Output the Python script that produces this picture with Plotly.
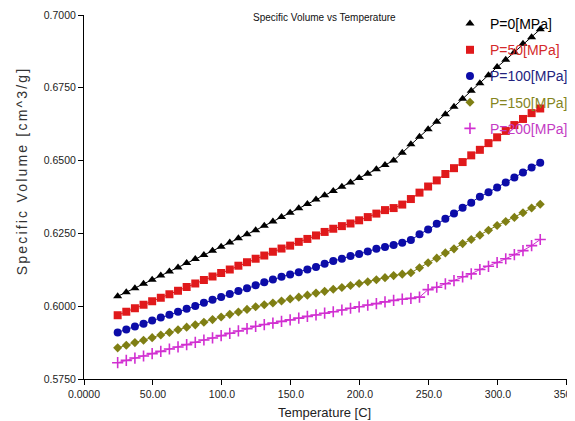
import plotly.graph_objects as go

temperature = [24.40, 30.65, 36.90, 43.15, 49.40, 55.65, 61.90, 68.15, 74.40, 80.65,
               86.90, 93.15, 99.40, 105.65, 111.90, 118.15, 124.40, 130.65, 136.90, 143.15,
               149.40, 155.65, 161.90, 168.15, 174.40, 180.65, 186.90, 193.15, 199.40, 205.65,
               211.90, 218.15, 224.40, 230.65, 236.90, 243.15, 249.40, 255.65, 261.90, 268.15,
               274.40, 280.65, 286.90, 293.15, 299.40, 305.65, 311.90, 318.15, 324.40, 330.65]

p0 = [0.6034, 0.6048, 0.6062, 0.6077, 0.6091, 0.6105, 0.6119, 0.6133, 0.6148, 0.6162,
      0.6176, 0.6190, 0.6204, 0.6219, 0.6233, 0.6247, 0.6261, 0.6276, 0.6291, 0.6306,
      0.6321, 0.6336, 0.6351, 0.6366, 0.6381, 0.6396, 0.6410, 0.6425, 0.6440, 0.6455,
      0.6470, 0.6485, 0.6500, 0.6527, 0.6556, 0.6582, 0.6608, 0.6633, 0.6659, 0.6685,
      0.6712, 0.6740, 0.6766, 0.6793, 0.6821, 0.6846, 0.6872, 0.6901, 0.6924, 0.6951]

p50 = [0.5969, 0.5981, 0.5993, 0.6005, 0.6017, 0.6029, 0.6041, 0.6053, 0.6066, 0.6078,
       0.6090, 0.6102, 0.6114, 0.6126, 0.6139, 0.6151, 0.6163, 0.6174, 0.6187, 0.6198,
       0.6208, 0.6221, 0.6231, 0.6243, 0.6255, 0.6266, 0.6275, 0.6284, 0.6295, 0.6306,
       0.6318, 0.6330, 0.6337, 0.6349, 0.6368, 0.6390, 0.6411, 0.6432, 0.6454, 0.6474,
       0.6495, 0.6518, 0.6537, 0.6560, 0.6580, 0.6602, 0.6622, 0.6643, 0.6663, 0.6679]

p100 = [0.5910, 0.5920, 0.5930, 0.5940, 0.5951, 0.5961, 0.5971, 0.5981, 0.5991, 0.6001,
        0.6012, 0.6022, 0.6032, 0.6042, 0.6052, 0.6062, 0.6072, 0.6082, 0.6092, 0.6101,
        0.6109, 0.6117, 0.6126, 0.6135, 0.6146, 0.6155, 0.6163, 0.6172, 0.6179, 0.6188,
        0.6197, 0.6203, 0.6210, 0.6218, 0.6227, 0.6247, 0.6263, 0.6283, 0.6300, 0.6318,
        0.6338, 0.6355, 0.6376, 0.6391, 0.6408, 0.6425, 0.6442, 0.6459, 0.6476, 0.6493]

p150 = [0.5857, 0.5866, 0.5875, 0.5883, 0.5892, 0.5901, 0.5910, 0.5919, 0.5928, 0.5936,
        0.5945, 0.5954, 0.5963, 0.5972, 0.5980, 0.5989, 0.5998, 0.6005, 0.6011, 0.6018,
        0.6025, 0.6031, 0.6038, 0.6045, 0.6051, 0.6058, 0.6064, 0.6071, 0.6078, 0.6084,
        0.6091, 0.6098, 0.6105, 0.6110, 0.6115, 0.6132, 0.6149, 0.6165, 0.6183, 0.6197,
        0.6215, 0.6229, 0.6244, 0.6261, 0.6277, 0.6291, 0.6305, 0.6321, 0.6337, 0.6350]

p200 = [0.5806, 0.5814, 0.5822, 0.5829, 0.5837, 0.5845, 0.5853, 0.5860, 0.5868, 0.5876,
        0.5884, 0.5891, 0.5899, 0.5907, 0.5915, 0.5923, 0.5931, 0.5937, 0.5942, 0.5948,
        0.5953, 0.5959, 0.5965, 0.5970, 0.5976, 0.5981, 0.5987, 0.5993, 0.5998, 0.6004,
        0.6009, 0.6015, 0.6020, 0.6024, 0.6027, 0.6031, 0.6057, 0.6065, 0.6077, 0.6088,
        0.6101, 0.6111, 0.6126, 0.6137, 0.6150, 0.6163, 0.6177, 0.6191, 0.6208, 0.6229]

series_names = ["P=0[MPa]", "P=50[MPa]", "P=100[MPa]", "P=150[MPa]", "P=200[MPa]"]
series_values = [p0, p50, p100, p150, p200]

x_tick_vals = [0, 50, 100, 150, 200, 250, 300, 350]
x_tick_text = ["0.0000", "50.00", "100.0", "150.0", "200.0", "250.0", "300.0", "350.0"]
y_tick_vals = [0.575, 0.600, 0.625, 0.650, 0.675, 0.700]
y_tick_text = ["0.5750", "0.6000", "0.6250", "0.6500", "0.6750", "0.7000"]

styles = [
    dict(color="#000000", text="#000000", symbol="triangle-up", size=8, lw=0),
    dict(color="#e0191b", text="#d42a2a", symbol="square", size=8, lw=0),
    dict(color="#0c0ca8", text="#23237e", symbol="circle", size=8, lw=0),
    dict(color="#7f7f14", text="#85851e", symbol="diamond", size=7, lw=0),
    dict(color="#d12fd1", text="#c43cc4", symbol="cross-thin", size=8, lw=1.6),
]

fig = go.Figure()
for name, vals, st in zip(series_names, series_values, styles):
    marker = dict(symbol=st["symbol"], size=st["size"], color=st["color"])
    if st["lw"]:
        marker["line"] = dict(color=st["color"], width=st["lw"])
    fig.add_trace(go.Scatter(
        x=temperature, y=vals, mode="lines+markers",
        line=dict(color=st["color"], width=1),
        marker=marker, showlegend=False, hoverinfo="skip"))
    # legend entry (marker only)
    fig.add_trace(go.Scatter(
        x=[None], y=[None], mode="markers", marker=marker,
        name='<span style="color:%s">%s</span>' % (st["text"], name),
        legendgroup=name, showlegend=True))

fig.update_layout(
    width=567, height=413,
    margin=dict(l=76, r=8, t=7, b=42, autoexpand=False),
    paper_bgcolor="white", plot_bgcolor="white",
    font=dict(family="Liberation Sans, Arial, sans-serif", color="#222222"),
    showlegend=True,
    legend=dict(xref="container", yref="container",
                x=0.7795, xanchor="left", y=1.005, yanchor="top",
                bgcolor="rgba(255,255,255,0)", borderwidth=0,
                font=dict(size=14, family="Liberation Sans, Arial, sans-serif"),
                tracegroupgap=5, itemwidth=30),
    xaxis=dict(range=[0, 350.05], tickvals=x_tick_vals, ticktext=x_tick_text,
               showgrid=False, zeroline=False, showline=True, linecolor="black",
               linewidth=1, ticks="outside", ticklen=5, tickcolor="black",
               automargin=False, ticklabeloverflow="allow",
               tickfont=dict(size=10.5, color="#222222")),
    yaxis=dict(range=[0.575, 0.700], tickvals=y_tick_vals, ticktext=y_tick_text,
               showgrid=False, zeroline=False, showline=True, linecolor="black",
               linewidth=1, ticks="outside", ticklen=5, tickcolor="black",
               automargin=False, ticklabeloverflow="allow",
               tickfont=dict(size=10.5, color="#222222")),
    annotations=[
        dict(text="Specific Volume vs Temperature", xref="paper", yref="paper",
             x=0.497, y=0.992, xanchor="center", yanchor="middle", showarrow=False,
             font=dict(size=10, color="#111111")),
        dict(text="Temperature [C]", xref="paper", yref="paper",
             x=0.497, y=-0.0934, xanchor="center", yanchor="middle", showarrow=False,
             font=dict(size=13, color="#222222")),
        dict(text='<span style="letter-spacing:2.2px">Specific Volume [cm^3/g]</span>',
             xref="paper", yref="paper",
             x=-0.128, y=0.571, xanchor="center", yanchor="middle", showarrow=False,
             textangle=-90, font=dict(size=14, family="Liberation Sans, Arial, sans-serif",
                                      color="#333333")),
    ],
)

fig.write_html("out.html")
